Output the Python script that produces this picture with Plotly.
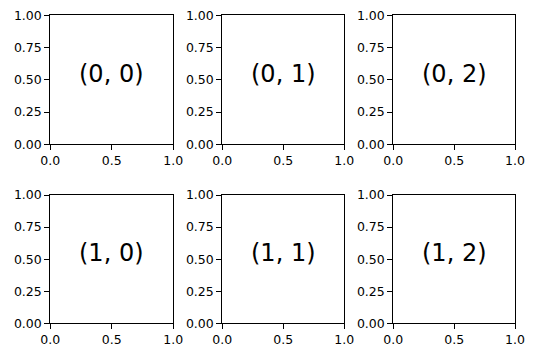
import plotly.graph_objects as go

rows = [0, 1]
cols = [0, 1, 2]
labels = [["(0, 0)", "(0, 1)", "(0, 2)"], ["(1, 0)", "(1, 1)", "(1, 2)"]]
label_x = 0.5
label_y = 0.5
x_ticks = [0, 0.5, 1]
x_ticktext = ["0.0", "0.5", "1.0"]
y_ticks = [0, 0.25, 0.5, 0.75, 1]
y_ticktext = ["0.00", "0.25", "0.50", "0.75", "1.00"]

W, H = 536, 357
col_px = [(50.3, 173.3), (222.3, 344.3), (393.3, 515.0)]
row_px = [(15.3, 144.3), (195.0, 323.3)]

fig = go.Figure()
font = "DejaVu Sans"
layout = {}
annotations = []
k = 0
for r in rows:
    for c in cols:
        k += 1
        sx = "" if k == 1 else str(k)
        xa, ya = "xaxis" + sx, "yaxis" + sx
        fig.add_trace(go.Scatter(x=[label_x], y=[label_y], mode="markers",
                                 marker=dict(opacity=0), xaxis="x" + sx, yaxis="y" + sx,
                                 showlegend=False, hoverinfo="skip"))
        annotations.append(dict(x=label_x, y=label_y, xref="x" + sx, yref="y" + sx,
                                text=labels[r][c], showarrow=False, xanchor="center",
                                yanchor="middle", yshift=6,
                                font=dict(family=font, size=24, color="black")))
        x0, x1 = col_px[c]
        t, b = row_px[r]
        common = dict(showline=True, linecolor="black", linewidth=1.1, mirror=True,
                      ticks="outside", ticklen=5, tickwidth=1.1, tickcolor="black",
                      showgrid=False, zeroline=False, fixedrange=True, automargin=False,
                      tickfont=dict(family=font, size=12.5, color="black"))
        layout[xa] = dict(domain=[x0 / W, x1 / W], range=[0, 1], tickvals=x_ticks,
                          ticktext=x_ticktext, anchor="y" + sx, **common)
        layout[ya] = dict(domain=[1 - b / H, 1 - t / H], range=[0, 1], tickvals=y_ticks,
                          ticktext=y_ticktext, anchor="x" + sx, **common)

fig.update_layout(width=W, height=H, margin=dict(l=0, r=0, t=0, b=0),
                  plot_bgcolor="white", paper_bgcolor="white", annotations=annotations,
                  **layout)
fig.write_html("out.html")
